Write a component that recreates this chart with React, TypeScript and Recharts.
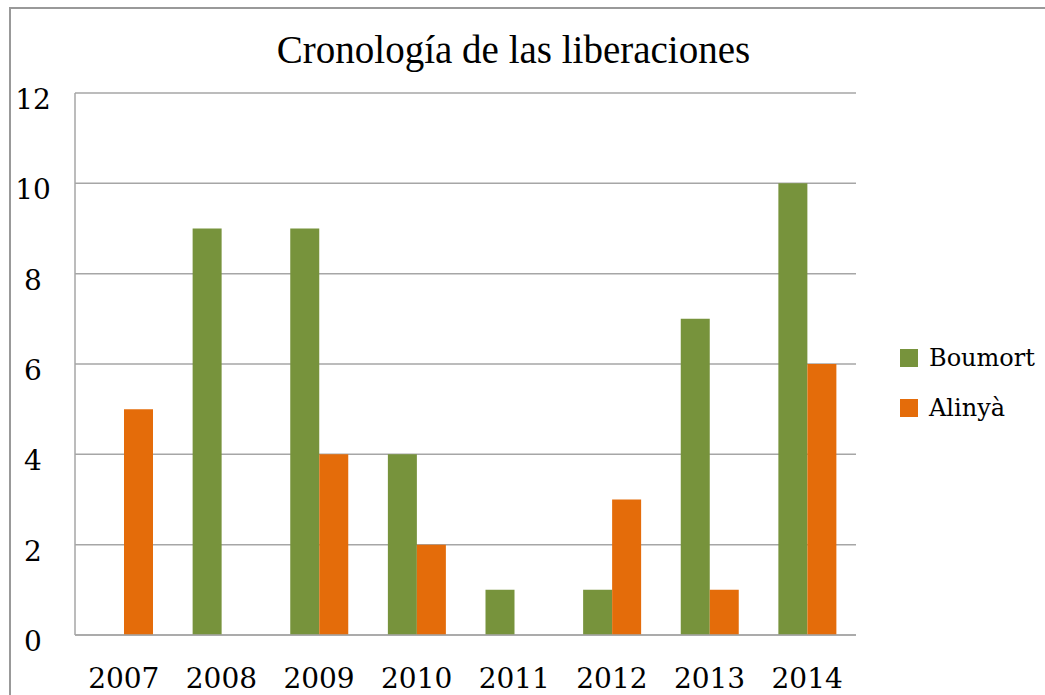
import { BarChart, Bar, XAxis, YAxis, CartesianGrid } from "recharts";

const years = ["2007", "2008", "2009", "2010", "2011", "2012", "2013", "2014"];
const boumort = [0, 9, 9, 4, 1, 1, 7, 10];
const alinya = [5, 0, 4, 2, 0, 3, 1, 6];
const yTicks = [0, 2, 4, 6, 8, 10, 12];

const GREEN = "#77933C";
const ORANGE = "#E46C0A";
const GRID = "#A6A6A6";

const data = years.map((year, i) => ({
  year,
  Boumort: boumort[i],
  Alinya: alinya[i],
}));

const seriesLegend = [
  { name: "Boumort", color: GREEN },
  { name: "Alinyà", color: ORANGE },
];

function LegendBox() {
  return (
    <div
      style={{
        position: "absolute",
        left: 900,
        top: 333,
        fontFamily: "'DejaVu Serif'",
        fontSize: 24,
        color: "#000",
      }}
    >
      {seriesLegend.map((s) => (
        <div key={s.name} style={{ display: "flex", alignItems: "center", height: 50 }}>
          <span style={{ width: 18, height: 18, background: s.color, display: "inline-block", marginRight: 11 }} />
          <span>{s.name}</span>
        </div>
      ))}
    </div>
  );
}

export default function App() {
  return (
    <div style={{ position: "absolute", left: 0, top: 0, width: 1045, height: 695, overflow: "hidden", background: "#fff" }}>
      <div
        style={{
          position: "absolute",
          left: 9,
          top: 7,
          width: 1100,
          height: 800,
          borderTop: "2px solid #999",
          borderLeft: "2px solid #999",
        }}
      />
      <div
        style={{
          position: "absolute",
          left: 0,
          width: 1027,
          top: 27,
          textAlign: "center",
          fontFamily: "'Liberation Serif'",
          fontSize: 39,
          color: "#000",
        }}
      >
        Cronología de las liberaciones
      </div>
      <BarChart
        width={1045}
        height={695}
        data={data}
        margin={{ top: 93, right: 189, bottom: 30, left: 15 }}
        barCategoryGap={20}
        barGap={0}
        style={{ position: "absolute", left: 0, top: 0 }}
      >
        <CartesianGrid vertical={false} stroke={GRID} strokeWidth={1.5} />
        <XAxis
          dataKey="year"
          height={30}
          axisLine={{ stroke: GRID, strokeWidth: 1.5 }}
          tickLine={false}
          tickSize={0}
          tickMargin={33}
          tick={{ fill: "#000", fontFamily: "'DejaVu Serif'", fontSize: 28 }}
        />
        <YAxis
          width={60}
          domain={[0, 12]}
          ticks={yTicks}
          axisLine={{ stroke: GRID, strokeWidth: 1.5 }}
          tickLine={false}
          tickSize={0}
          tickMargin={42}
          tick={{ fill: "#000", fontFamily: "'DejaVu Serif'", fontSize: 28, textAnchor: "middle", dy: 6 }}
        />
        <Bar dataKey="Boumort" fill={GREEN} isAnimationActive={false} />
        <Bar dataKey="Alinya" name="Alinyà" fill={ORANGE} isAnimationActive={false} />
      </BarChart>
      <LegendBox />
    </div>
  );
}
